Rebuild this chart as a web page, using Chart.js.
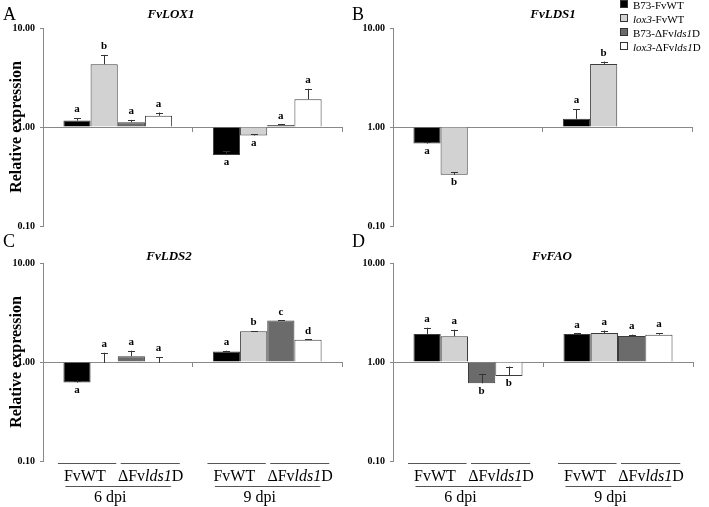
<!DOCTYPE html>
<html>
<head>
<meta charset="utf-8">
<script src="https://cdn.jsdelivr.net/npm/chart.js@4.4.0/dist/chart.umd.min.js"></script>
<style>
body { margin: 0; background: #fff; }
#fig { position: relative; width: 709px; height: 507px; background: #fff; font-family: "Liberation Serif", "Times New Roman", serif; color: #000; }
#fig canvas { position: absolute; }
.letter { position: absolute; font-size: 18px; line-height: 18px; }
.gene { position: absolute; font-size: 13px; line-height: 13px; font-weight: bold; font-style: italic; transform: translateX(-50%); white-space: nowrap; }
#legend { position: absolute; left: 620px; top: -2px; font-size: 11px; line-height: 14px; white-space: nowrap; }
#legend .sw { display: inline-block; width: 6px; height: 6px; border: 1px solid #333; margin-right: 5px; vertical-align: 1px; }
</style>
</head>
<body>
<div id="fig">
  <canvas id="cA" width="354" height="240" style="left:0;top:0"></canvas>
  <canvas id="cB" width="355" height="240" style="left:354px;top:0"></canvas>
  <canvas id="cC" width="354" height="267" style="left:0;top:240px"></canvas>
  <canvas id="cD" width="355" height="267" style="left:354px;top:240px"></canvas>

  <div class="letter" style="left:3px;top:5px">A</div>
  <div class="letter" style="left:352px;top:5px">B</div>
  <div class="letter" style="left:3px;top:232px">C</div>
  <div class="letter" style="left:352px;top:232px">D</div>

  <div class="gene" style="left:171px;top:7px">FvLOX1</div>
  <div class="gene" style="left:553px;top:7px">FvLDS1</div>
  <div class="gene" style="left:169px;top:249px">FvLDS2</div>
  <div class="gene" style="left:552px;top:249px">FvFAO</div>

  <div id="legend">
    <div><span class="sw" style="background:#000"></span>B73-FvWT</div>
    <div><span class="sw" style="background:#d2d2d2"></span><i>lox3</i>-FvWT</div>
    <div><span class="sw" style="background:#6b6b6b"></span>B73-ΔFv<i>lds1</i>D</div>
    <div><span class="sw" style="background:#fff"></span><i>lox3</i>-ΔFv<i>lds1</i>D</div>
  </div>
</div>

<script>
var categories = ['6 dpi', '9 dpi'];
var subGroups = [[{t: 'FvWT'}], [{t: 'ΔFv'}, {t: 'lds1', i: true}, {t: 'D'}]];
var seriesNames = ['B73-FvWT', 'lox3-FvWT', 'B73-ΔFvlds1D', 'lox3-ΔFvlds1D'];
var seriesColors = ['#000000', '#d2d2d2', '#6b6b6b', '#ffffff'];
var yTicks = [0.1, 1, 10];

// each row = one series, values for [6 dpi, 9 dpi]
var loxMean = [[1.16, 0.52], [4.31, 0.82], [1.12, 1.05], [1.30, 1.91]];
var loxErr = [[0.07, 0.05], [1.04, 0.02], [0.06, 0.01], [0.10, 0.52]];
var loxLetters = [['a', 'a'], ['b', 'a'], ['a', 'a'], ['a', 'a']];

var lds1Mean = [[0.68, 1.21], [0.33, 4.34], [null, null], [null, null]];
var lds1Err = [[0.03, 0.31], [0.02, 0.24], [null, null], [null, null]];
var lds1Letters = [['a', 'a'], ['b', 'b'], [null, null], [null, null]];

var lds2Mean = [[0.62, 1.28], [0.98, 2.04], [1.14, 2.62], [0.98, 1.68]];
var lds2Err = [[0.03, 0.02], [0.26, 0.01], [0.16, 0.01], [0.14, 0.02]];
var lds2Letters = [['a', 'a'], ['a', 'b'], ['a', 'c'], ['a', 'd']];

var faoMean = [[1.92, 1.92], [1.82, 1.96], [0.61, 1.83], [0.72, 1.89]];
var faoErr = [[0.30, 0.03], [0.30, 0.12], [0.15, 0.06], [0.18, 0.07]];
var faoLetters = [['a', 'a'], ['a', 'a'], ['b', 'a'], ['b', 'a']];

var serif = '"Liberation Serif", "Times New Roman", serif';
Chart.defaults.font.family = serif;

function richText(c, parts, cx, y, size) {
    var w = 0;
    parts.forEach(function (p) {
        c.font = (p.i ? 'italic ' : '') + size + 'px ' + serif;
        p.w = c.measureText(p.t).width;
        w += p.w;
    });
    var x = cx - w / 2;
    c.textAlign = 'left';
    c.textBaseline = 'middle';
    parts.forEach(function (p) {
        c.font = (p.i ? 'italic ' : '') + size + 'px ' + serif;
        c.fillText(p.t, x, y);
        x += p.w;
    });
}

// error bars (upper side only) + letters of significance
var markPlugin = {
    id: 'marks',
    afterDatasetsDraw: function (chart) {
        var c = chart.ctx, y = chart.scales.y;
        var p = chart.options.plugins.marks;
        chart.data.datasets.forEach(function (ds, i) {
            var meta = chart.getDatasetMeta(i);
            meta.data.forEach(function (bar, j) {
                var v = ds.data[j];
                if (v == null) return;
                var e = p.err[i][j];
                var top = y.getPixelForValue(v + e);
                var bx = Math.round(bar.x) + 0.5;
                c.save();
                c.strokeStyle = '#333';
                c.lineWidth = 1;
                c.beginPath();
                c.moveTo(bx, bar.y);
                c.lineTo(bx, top);
                c.moveTo(bx - 3.5, Math.round(top) + 0.5);
                c.lineTo(bx + 3.5, Math.round(top) + 0.5);
                c.stroke();
                c.fillStyle = '#000';
                c.font = 'bold 11px ' + serif;
                c.textAlign = 'center';
                if (v + e >= 1) {
                    c.textBaseline = 'bottom';
                    c.fillText(p.letters[i][j], bar.x, top - 3);
                } else {
                    c.textBaseline = 'top';
                    c.fillText(p.letters[i][j], bar.x, bar.y + 2);
                }
                c.restore();
            });
        });
    }
};

// two-level category labels under panels C and D
var bracketPlugin = {
    id: 'brackets',
    afterDraw: function (chart) {
        var p = chart.options.plugins.brackets;
        if (!p || !p.show) return;
        var c = chart.ctx, x = chart.scales.x, b = chart.chartArea.bottom;
        var w = x.width / categories.length;
        function line(x1, x2, yy) {
            c.beginPath();
            c.moveTo(x1, Math.round(yy) + 0.5);
            c.lineTo(x2, Math.round(yy) + 0.5);
            c.stroke();
        }
        c.save();
        c.strokeStyle = '#555';
        c.lineWidth = 1;
        c.fillStyle = '#000';
        categories.forEach(function (cat, k) {
            var cx = x.getPixelForValue(k);
            line(cx - 0.40 * w, cx - 0.01 * w, b + 2);
            line(cx + 0.02 * w, cx + 0.415 * w, b + 2);
            richText(c, subGroups[0], cx - 0.22 * w, b + 16, 16);
            richText(c, subGroups[1], cx + 0.22 * w, b + 16, 16);
            line(cx - 0.35 * w, cx + 0.355 * w, b + 25);
            richText(c, [{t: cat}], cx - 0.05 * w, b + 37, 16);
        });
        c.restore();
    }
};

function panel(id, mean, err, letters, cfg) {
    return new Chart(document.getElementById(id), {
        type: 'bar',
        data: {
            labels: categories,
            datasets: seriesNames.map(function (n, i) {
                return {
                    label: n,
                    data: mean[i],
                    base: 1,
                    backgroundColor: seriesColors[i],
                    borderColor: '#3c3c3c',
                    borderWidth: 1,
                    categoryPercentage: 0.727,
                    barPercentage: 1
                };
            })
        },
        options: {
            responsive: false,
            animation: false,
            devicePixelRatio: 1,
            layout: {padding: cfg.padding},
            plugins: {
                legend: {display: false},
                tooltip: {enabled: false},
                marks: {err: err, letters: letters},
                brackets: {show: cfg.brackets}
            },
            scales: {
                x: {
                    position: {y: 1},
                    ticks: {display: false},
                    grid: {offset: true, drawOnChartArea: false, tickLength: 4, color: '#888'},
                    border: {color: '#888'},
                    afterFit: function (s) { s.height = 0; }
                },
                y: {
                    type: 'logarithmic',
                    min: 0.1,
                    max: 10,
                    afterBuildTicks: function (s) {
                        s.ticks = yTicks.map(function (v) { return {value: v}; });
                    },
                    ticks: {
                        callback: function (v) { return Number(v).toFixed(2); },
                        font: {size: 10, weight: 'bold'},
                        color: '#000',
                        padding: 5
                    },
                    grid: {drawOnChartArea: false, tickLength: 3, color: '#888'},
                    border: {color: '#888'},
                    title: {
                        display: cfg.yTitle,
                        text: 'Relative expression',
                        font: {size: 16, weight: 'bold'},
                        color: '#000',
                        padding: {top: 7, bottom: 0}
                    },
                    afterFit: function (s) { s.width = cfg.yWidth; }
                }
            }
        },
        plugins: [markPlugin, bracketPlugin]
    });
}

panel('cA', loxMean, loxErr, loxLetters,
    {yTitle: true, yWidth: 43, brackets: false, padding: {top: 28, right: 12, bottom: 14, left: 0}});
panel('cB', lds1Mean, lds1Err, lds1Letters,
    {yTitle: false, yWidth: 39, brackets: false, padding: {top: 28, right: 17, bottom: 14, left: 0}});
panel('cC', lds2Mean, lds2Err, lds2Letters,
    {yTitle: true, yWidth: 43, brackets: true, padding: {top: 23, right: 12, bottom: 46, left: 0}});
panel('cD', faoMean, faoErr, faoLetters,
    {yTitle: false, yWidth: 39, brackets: true, padding: {top: 23, right: 16, bottom: 46, left: 0}});
</script>
</body>
</html>
